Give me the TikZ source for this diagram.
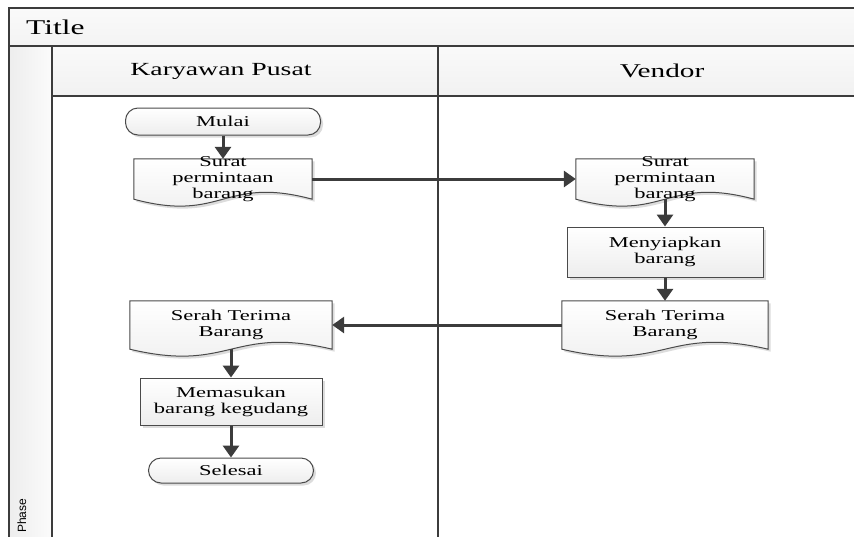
\documentclass[tikz,border=0pt]{standalone}
\usepackage{fontspec}
\setmainfont{Liberation Serif}[FakeStretch=1.5]
\newfontfamily\phasefont{Liberation Sans}
\usetikzlibrary{arrows.meta,shadows,calc}
\definecolor{frameGray}{HTML}{3C3C3C}
\definecolor{boxGray}{HTML}{4A4A4A}

\begin{document}
\begin{tikzpicture}
[x=1pt,y=-1pt,
  laneLine/.style={draw=frameGray,line width=2.8pt},
  boxShadow/.style={drop shadow={shadow xshift=2.5pt,shadow yshift=-2.5pt,fill=gray!60,opacity=0.45}},
  boxFill/.style={draw=boxGray,line width=1pt,top color=white,bottom color=gray!14},
  textDecorate/.style={align=center,inner sep=0pt,font=\fontsize{15}{16}\selectfont},
  terminalDecorate/.style={shape=rectangle,rounded corners=12.5pt,boxFill,boxShadow,textDecorate},
  processDecorate/.style={shape=rectangle,boxFill,boxShadow,textDecorate},
  documentDecorate/.style={shape=rectangle,inner sep=0pt},
  documentOutline/.style={boxFill,boxShadow},
  arrowDecorate/.style={draw=frameGray,line width=3pt,-{Triangle[width=16pt,length=12pt]}}]
\useasboundingbox (0,0) rectangle (854,536);
%% swimlane frame
\fill[white] (0,0) rectangle (854,536);
\begin{scope}
  \clip (0,0) rectangle (854,536);
  \shade[top color=gray!4,bottom color=gray!9] (9,8) rectangle (900,46);
  \shade[left color=gray!14,right color=gray!3] (9,46) rectangle (52,600);
  \shade[top color=gray!4,bottom color=gray!11] (52,46) rectangle (900,96);
  \draw[laneLine] (900,8) -- (9,8) -- (9,600);
  \draw[laneLine] (9,46) -- (900,46);
  \draw[laneLine] (52,46) -- (52,600);
  \draw[laneLine] (52,96) -- (900,96);
  \draw[laneLine] (438,46) -- (438,600);
\end{scope}
\node (phase) at (26,533) [anchor=base west,rotate=90,inner sep=0pt,font=\phasefont\fontsize{12}{12}\selectfont] {Phase};
\node (title) at (26,27) [anchor=west,inner sep=0pt,font=\fontsize{21}{21}\selectfont] {Title};
\node (laneKaryawan) at (221,71) [font=\fontsize{18.5}{18.5}\selectfont] {Karyawan Pusat};
\node (laneVendor) at (662,71) [font=\fontsize{19.5}{19.5}\selectfont] {Vendor};
%% nodes or shapes
\node (mulai) at (223,121.5) [terminalDecorate,minimum width=195pt,minimum height=27pt] {Mulai};
\node (suratA) at (223,179) [documentDecorate,minimum width=178pt,minimum height=40pt] {};
\node (suratB) at (665,179) [documentDecorate,minimum width=178pt,minimum height=40pt] {};
\node (siap) at (665,252) [processDecorate,minimum width=196pt,minimum height=50pt] {Menyiapkan\\barang};
\node (serahB) at (665,325) [documentDecorate,minimum width=206pt,minimum height=48pt] {};
\node (serahA) at (231,325) [documentDecorate,minimum width=202pt,minimum height=48pt] {};
\node (masuk) at (231,401.5) [processDecorate,minimum width=182pt,minimum height=47pt] {Memasukan\\barang kegudang};
\node (selesai) at (231,470.5) [terminalDecorate,minimum width=165pt,minimum height=25pt] {Selesai};
%% document outlines
\foreach \docname in {suratA,suratB,serahB,serahA}
{
  \draw[documentOutline] (\docname.south west) -- (\docname.north west) -- (\docname.north east)
    -- (\docname.south east) .. controls ($(\docname.south)+(0,-24)$) and ($(\docname.south)+(0,24)$) .. (\docname.south west) -- cycle;
}
%% document labels
\node (suratAtext) at (suratA) [textDecorate] {Surat\\permintaan\\barang};
\node (suratBtext) at (suratB) [textDecorate] {Surat\\permintaan\\barang};
\node (serahBtext) at (serahB) [textDecorate] {Serah Terima\\Barang};
\node (serahAtext) at (serahA) [textDecorate] {Serah Terima\\Barang};
%% connectors
\foreach \startnode/\endnode in {
  mulai/suratA, suratA/suratB, suratB/siap, siap/serahB, serahB/serahA,
  serahA/masuk, masuk/selesai}
{
  \draw[arrowDecorate] (\startnode) -- (\endnode);
}
\end{tikzpicture}
\end{document}
